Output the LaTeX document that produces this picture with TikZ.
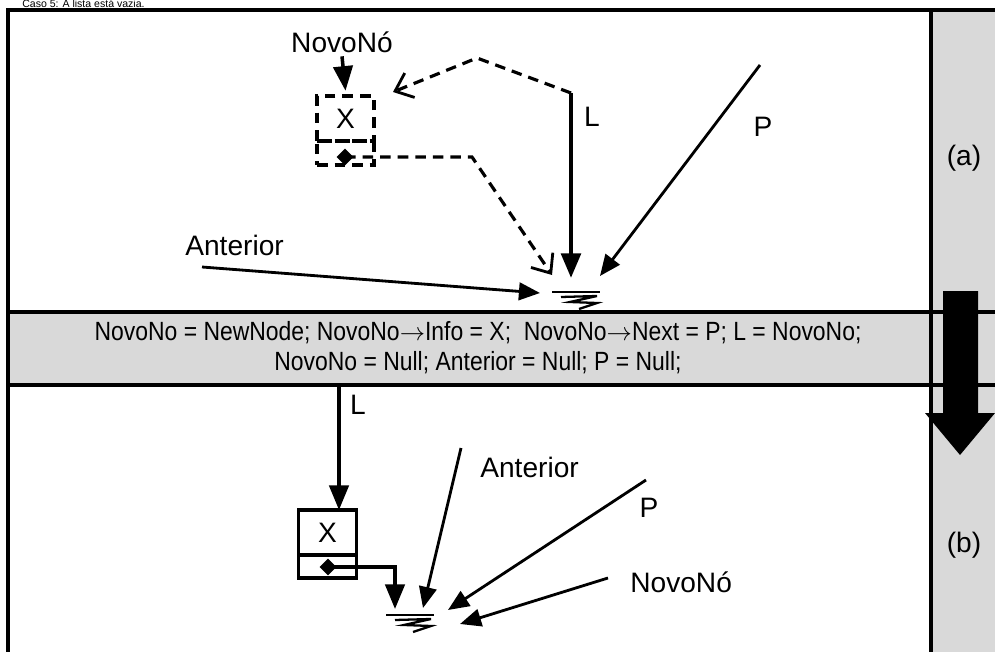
\documentclass[tikz,border=0pt]{standalone}
\usepackage{fontspec}
\setmainfont{Liberation Sans}
\newfontfamily\narrowfont[FakeStretch=0.87]{Liberation Sans}
\usetikzlibrary{arrows.meta,shapes.geometric}

\definecolor{cinza}{HTML}{D9D9D9}

\tikzset{
  seta/.style={line width=2pt,-{Triangle[length=14pt,width=11pt]}},
  setafina/.style={line width=1.6pt,-{Triangle[length=12pt,width=10pt]}},
  tracejado/.style={line width=1.8pt,dash pattern=on 6pt off 4pt},
  rotulo/.style={font=\fontsize{16}{18}\selectfont,inner sep=0pt},
  caixa/.style={draw,line width=2pt,inner sep=0pt,outer sep=0pt,minimum width=1.16cm},
  ponteiro/.style={diamond,fill,inner sep=0pt,minimum size=0.34cm},
  terra/.pic={
    \draw[line width=1.6pt] (-24,0) -- (24,0);
    \draw[line width=1.3pt] (-15,5) -- (21,4) -- (-6,10) -- (21,11) -- (3,17);
  }
}

\begin{document}
\begin{tikzpicture}[x=0.02cm,y=-0.02cm]
\useasboundingbox (0,0) rectangle (995,652);
% Background
\fill[cinza] (931,10) rectangle (995,652);
\fill[cinza] (8,312) rectangle (995,385);
\node[anchor=base west,font=\fontsize{6}{7}\selectfont,inner sep=0pt] (titulo) at (22,8) {Caso 5: A lista está vazia.};
% Frame
\draw[line width=2pt] (8,652) -- (8,10) -- (995,10);
\draw[line width=2pt] (931,10) -- (931,652);
\draw[line width=2pt] (8,312) -- (995,312);
\draw[line width=2pt] (8,385) -- (995,385);
% Big arrow
\fill (943,291) -- (978,291) -- (978,413) -- (995,413) -- (960,455) -- (925,413) -- (943,413) -- cycle;
\node[rotulo] (a) at (964,158) {(a)};
\node[rotulo] (b) at (964,545) {(b)};
% Code
\node[align=center,font=\narrowfont\fontsize{15}{17}\selectfont,inner sep=0pt] (codigo) at (478,348)
  {NovoNo = NewNode; NovoNo$\rightarrow$Info = X;\ \ NovoNo$\rightarrow$Next = P; L = NovoNo;\\NovoNo = Null; Anterior = Null; P = Null;};

% Nodes (a)
\node[rotulo] (novoA) at (342,42) {NovoNó};
\node[draw,tracejado,inner sep=0pt,outer sep=0pt,minimum width=1.14cm,minimum height=0.9cm,font=\fontsize{16}{18}\selectfont] (infoA) at (345.5,118.5) {X};
\node[draw,tracejado,inner sep=0pt,outer sep=0pt,minimum width=1.14cm,minimum height=0.48cm,anchor=north] (nextA) at (infoA.south) {};
\node[ponteiro] (ptrA) at (345,157) {};
\node[rotulo] (lA) at (592,117) {L};
\node[rotulo] (pA) at (763,127) {P};
\node[rotulo,anchor=west] (antA) at (185,245) {Anterior};
\coordinate (topoLA) at (571,93);
\coordinate (dobraA) at (477,58);
\coordinate (pontaA) at (393,92);
\coordinate (quinaA) at (472,157);
\coordinate (fimDA) at (552,275);
\coordinate (fimLA) at (571,278);
\coordinate (inicioPA) at (760,65);
\coordinate (fimPA) at (600,276);
\coordinate (inicioAntA) at (202,267);
\coordinate (fimAntA) at (540,293);
\coordinate (gndA) at (576,292);
\pic at (gndA) {terra};
% Edges (a)
\draw[seta] ([yshift=-2pt]novoA.south) -- ([yshift=3pt]infoA.north);
\draw[seta,line width=2.6pt] (topoLA) -- (fimLA);
\draw[tracejado,-{Straight Barb[length=9pt,width=15pt,line width=1.6pt]}] (topoLA) -- (dobraA) -- (pontaA);
\draw[tracejado,-{Straight Barb[length=9pt,width=15pt,line width=1.6pt]}] (ptrA.center) -- (quinaA) -- (fimDA);
\draw[setafina] (inicioPA) -- (fimPA);
\draw[setafina] (inicioAntA) -- (fimAntA);

% Nodes (b)
\node[rotulo] (lB) at (358,405) {L};
\node[caixa,minimum height=0.9cm,font=\fontsize{16}{18}\selectfont] (infoB) at (327.5,532.5) {X};
\node[caixa,minimum height=0.46cm,anchor=north] (nextB) at (infoB.south) {};
\node[ponteiro] (ptrB) at (328,567) {};
\node[rotulo,anchor=west] (antB) at (480,467) {Anterior};
\node[rotulo] (pB) at (649,508) {P};
\node[rotulo,anchor=west] (novoB) at (630,582) {NovoNó};
\coordinate (topoLB) at (339,386);
\coordinate (fimPtrB) at (395,609);
\coordinate (inicioAntB) at (461,448);
\coordinate (fimAntB) at (423,608);
\coordinate (inicioPB) at (646,480);
\coordinate (fimPB) at (448,610);
\coordinate (inicioNovoB) at (608,578);
\coordinate (fimNovoB) at (460,624);
\coordinate (gndB) at (410,615);
\pic at (gndB) {terra};
% Edges (b)
\draw[seta] (topoLB) -- (topoLB |- infoB.north);
\draw[seta] (ptrB.center) -| (fimPtrB);
\draw[setafina] (inicioAntB) -- (fimAntB);
\draw[setafina] (inicioPB) -- (fimPB);
\draw[setafina] (inicioNovoB) -- (fimNovoB);
\end{tikzpicture}
\end{document}
